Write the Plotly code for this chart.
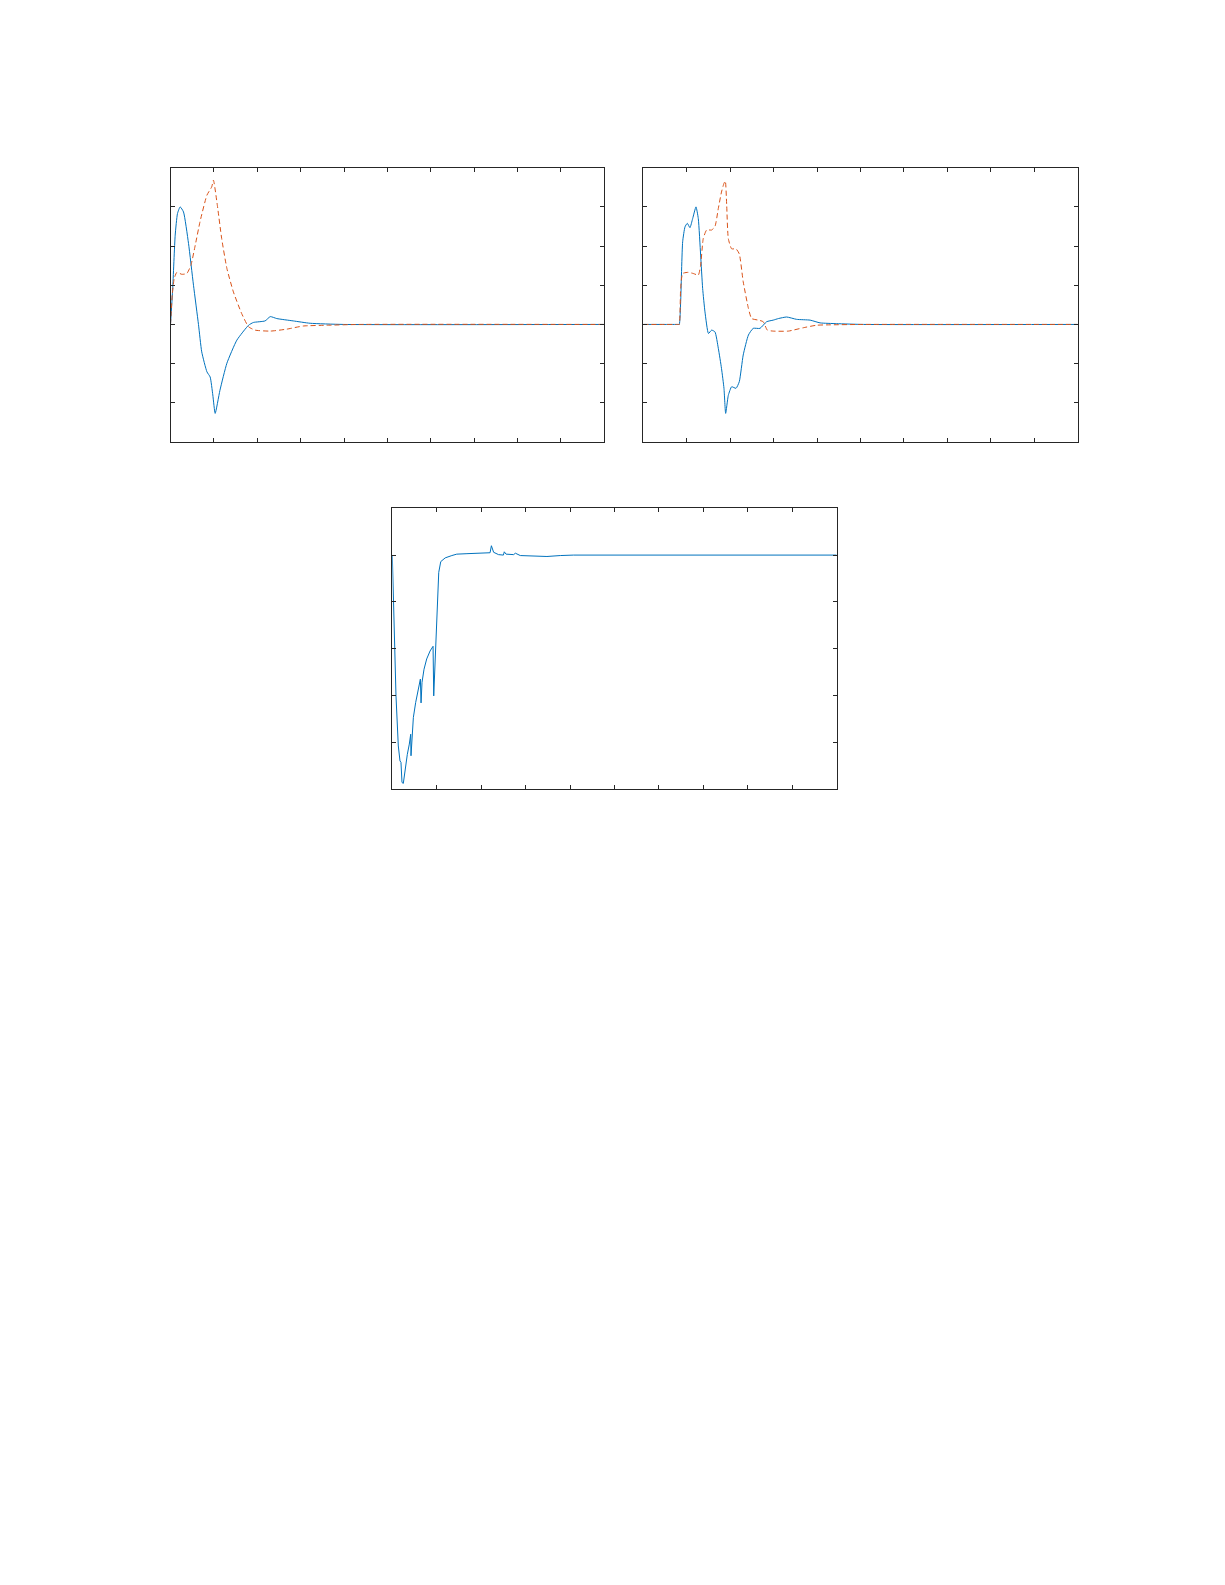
import plotly.graph_objects as go

W, H = 1209, 1569   # page body has an 8px margin
OFF = 8

# top-left panel
t1_blue = [0, 0.05, 0.108, 0.161, 0.223, 0.30, 0.415, 0.53, 0.645, 0.72, 0.84, 0.914, 0.975, 1.03,
           1.14, 1.30, 1.53, 1.80, 1.91, 2.18, 2.30, 2.45, 2.83, 3.22, 3.99, 10]
y1_blue = [0, 0.9, 2.28, 2.83, 3.0, 2.87, 2.07, 1.0, 0, -0.70, -1.21, -1.34, -1.80, -2.27,
           -1.68, -0.99, -0.40, -0.02, 0.05, 0.09, 0.20, 0.15, 0.09, 0.03, 0.0, 0]
t1_orange = [0, 0.04, 0.085, 0.146, 0.26, 0.376, 0.47, 0.57, 0.68, 0.84, 0.95, 0.99, 1.08, 1.18,
             1.30, 1.45, 1.64, 1.80, 1.95, 2.30, 2.68, 3.06, 3.60, 4.37, 10]
y1_orange = [0, 0.75, 1.17, 1.33, 1.28, 1.30, 1.51, 2.02, 2.62, 3.30, 3.51, 3.68, 3.04, 2.19,
             1.43, 0.83, 0.28, -0.06, -0.145, -0.17, -0.12, -0.04, -0.02, 0, 0]

# top-right panel
t2_blue = [0, 0.5, 0.81, 0.829, 0.86, 0.906, 0.96, 1.013, 1.074, 1.136, 1.213, 1.266, 1.32, 1.366,
           1.42, 1.50, 1.573, 1.65, 1.727, 1.80, 1.857, 1.896, 1.957, 2.034, 2.134, 2.21, 2.30, 2.42,
           2.53, 2.686, 2.84, 2.99, 3.11, 3.30, 3.53, 3.84, 4.07, 4.45, 5.07, 10]
y2_blue = [0, 0, 0, 0, 0.58, 2.11, 2.49, 2.58, 2.47, 2.70, 3.0, 2.70, 1.77, 0.92,
           0.32, -0.23, -0.145, -0.19, -0.61, -1.12, -1.63, -2.27, -1.81, -1.59, -1.63, -1.46, -0.78, -0.27,
           -0.10, -0.10, 0.07, 0.11, 0.15, 0.19, 0.13, 0.11, 0.04, 0.02, 0, 0]
t2_orange = [0, 0.5, 0.81, 0.829, 0.86, 0.906, 1.036, 1.151, 1.266, 1.32, 1.38, 1.458, 1.573, 1.65,
             1.727, 1.80, 1.857, 1.888, 1.92, 1.957, 2.034, 2.134, 2.21, 2.30, 2.42, 2.494, 2.65, 2.76,
             2.855, 2.99, 3.34, 3.68, 3.99, 4.30, 5.07, 10]
y2_orange = [0, 0, 0, 0, 0.92, 1.30, 1.33, 1.30, 1.26, 1.51, 2.19, 2.41, 2.41, 2.50,
             2.96, 3.38, 3.60, 3.66, 3.04, 2.19, 1.93, 1.93, 1.80, 1.09, 0.41, 0.15, 0.11, 0.07,
             -0.145, -0.17, -0.17, -0.085, -0.02, -0.01, 0, 0]

# bottom panel
t3 = [0, 0.023, 0.045, 0.083, 0.135, 0.173, 0.195, 0.218, 0.248, 0.286, 0.338, 0.383, 0.414, 0.421,
      0.451, 0.474, 0.526, 0.586, 0.632, 0.647, 0.669, 0.714, 0.774, 0.85, 0.917, 0.932, 0.955,
      0.985, 1.015, 1.045, 1.09, 1.19, 1.34, 1.45, 1.68, 1.98, 2.20, 2.23, 2.28, 2.39, 2.50, 2.52,
      2.56, 2.73, 2.77, 2.88, 3.18, 3.48, 3.78, 4.08, 10]
y3 = [0, -0.87, -1.44, -3.01, -4.08, -4.40, -4.43, -4.86, -4.88, -4.58, -4.26, -4.04, -3.83, -4.29,
      -3.86, -3.47, -3.15, -2.83, -2.65, -3.16, -2.72, -2.44, -2.22, -2.05, -1.95, -3.01, -2.44,
      -1.87, -0.87, -0.37, -0.14, -0.06, -0.01, 0.02, 0.03, 0.04, 0.05, 0.20, 0.06, 0.01, 0, 0.07,
      0.02, 0.01, 0.04, -0.01, -0.02, -0.03, -0.01, 0, 0]

BLUE = "#0072BD"
ORANGE = "#D95319"
DASH = "5px,3px"

# axes boxes in page pixels: left, right, top, bottom
boxes = [(170.5, 604.3, 167.7, 442.0),
         (643.3, 1077.7, 167.7, 442.0),
         (392.3, 836.7, 508.3, 789.0)]

fig = go.Figure()
fig.add_trace(go.Scatter(x=t1_blue, y=y1_blue, mode="lines",
                         line=dict(color=BLUE, width=1, shape="spline", smoothing=0.5),
                         xaxis="x", yaxis="y"))
fig.add_trace(go.Scatter(x=t1_orange, y=y1_orange, mode="lines",
                         line=dict(color=ORANGE, width=1, dash=DASH, shape="spline", smoothing=0.5),
                         xaxis="x", yaxis="y"))
fig.add_trace(go.Scatter(x=t2_blue, y=y2_blue, mode="lines",
                         line=dict(color=BLUE, width=1, shape="spline", smoothing=0.5),
                         xaxis="x2", yaxis="y2"))
fig.add_trace(go.Scatter(x=t2_orange, y=y2_orange, mode="lines",
                         line=dict(color=ORANGE, width=1, dash=DASH, shape="spline", smoothing=0.5),
                         xaxis="x2", yaxis="y2"))
fig.add_trace(go.Scatter(x=t3, y=y3, mode="lines", line=dict(color=BLUE, width=1),
                         xaxis="x3", yaxis="y3"))

axis_style = dict(showticklabels=False, ticks="inside", ticklen=4, tickwidth=1, tickcolor="#262626",
                  showline=True, linecolor="#262626", linewidth=1, mirror="allticks",
                  showgrid=False, zeroline=False)

yranges = [(-3, 4), (-3, 4), (-5, 1)]
for i, (l, r, t, b) in enumerate(boxes):
    sfx = "" if i == 0 else str(i + 1)
    fig.layout["xaxis" + sfx] = dict(axis_style, domain=[(l - OFF) / W, (r - OFF) / W], range=[0, 10],
                                     dtick=1, anchor="y" + sfx)
    fig.layout["yaxis" + sfx] = dict(axis_style, domain=[(H - (b - OFF)) / H, (H - (t - OFF)) / H],
                                     range=list(yranges[i]), dtick=1, anchor="x" + sfx)

fig.update_layout(width=W, height=H, margin=dict(l=0, r=0, t=0, b=0), showlegend=False,
                  paper_bgcolor="white", plot_bgcolor="white")

fig.write_html("out.html")
